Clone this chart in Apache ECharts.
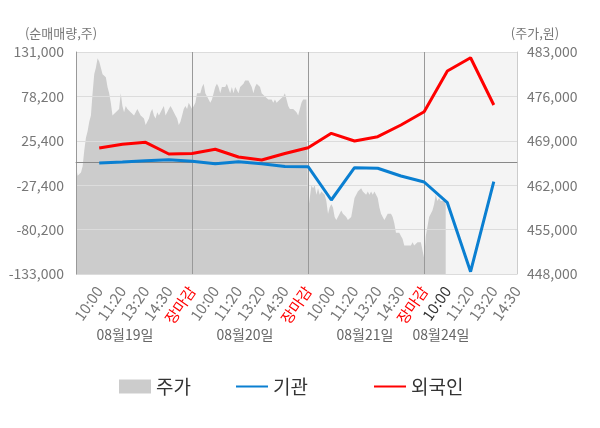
<!DOCTYPE html>
<html>
<head>
<meta charset="utf-8">
<script src="https://cdn.jsdelivr.net/npm/echarts@6.0.0/dist/echarts.min.js"></script>
<style>
html,body{margin:0;padding:0;background:#fff;}
#main2dchart{width:600px;height:428px;}
</style>
</head>
<body>
<div id="main2dchart"></div>
<script>
// 순매매 집계 시각 (일자별 10:00 ~ 장마감)
var timeLabels = ['', '10:00', '11:20', '13:20', '14:30', '장마감',
	'10:00', '11:20', '13:20', '14:30', '장마감',
	'10:00', '11:20', '13:20', '14:30', '장마감',
	'10:00', '11:20', '13:20', '14:30'];
var dayLabels = ['08월19일', '08월20일', '08월21일', '08월24일'];

// 기관 / 외국인 누적 순매매량 (주)
var instValues = [null, -1000, 200, 1600, 2800, 1000,
	-1800, 500, -1800, -5200, -5400,
	-45000, -6600, -7300, -16500, -23600,
	-48200, -130300, -23200, null];
var foreignValues = [null, 16800, 21200, 23600, 9700, 10300,
	15300, 6100, 2600, 10300, 17200,
	34300, 25200, 30300, 44200, 60000,
	108400, 124200, 68000, null];

var leftTicks = [-133000, -80200, -27400, 25400, 78200, 131000];
var rightMin = 448000, rightMax = 483000, rightStep = 7000;

// 주가 (원) - 일자별 분 단위 흐름
var priceDay1 = [465000, 463500, 463500, 464000, 465000, 467500, 469500, 470500, 472000, 473000,
	476500, 479500, 480500, 482000, 481500, 480500, 479500, 479500, 479000, 477500,
	476500, 475000, 473000, 473000, 473500, 473500, 474000, 476500, 474500, 473500,
	474500, 474000, 474000, 473500, 473500, 473000, 473500, 474000, 473500, 473000,
	473000, 472500, 471500, 472000, 472500, 473500, 474000, 473000, 472500, 473500,
	473000, 473500, 474000, 474500, 473000, 473000, 474000, 474500, 474000, 473500,
	473000, 472500, 471500, 472000, 473000, 474000, 474500, 474000, 475000, 475000];
var priceDay2 = [474000, 474500, 475000, 476500, 476500, 476500, 477500, 478000, 476500, 476500,
	475500, 475000, 475500, 476500, 477500, 478000, 477500, 476500, 477500, 477500,
	477500, 478000, 478000, 476500, 477500, 476500, 477500, 477000, 476500, 477500,
	477500, 478000, 478500, 478500, 478500, 478000, 477500, 476500, 477500, 478000,
	478000, 477500, 476500, 476500, 476000, 476000, 475500, 475500, 475500, 475000,
	475500, 475000, 475000, 475500, 475500, 476000, 476500, 475500, 474500, 474000,
	474000, 474000, 474000, 473500, 473000, 474000, 475000, 475500, 475500, 475500];
var priceDay3 = [458000, 460000, 462000, 461500, 462000, 460500, 461500, 460500, 461000, 461000,
	460500, 459500, 457500, 458500, 459000, 458500, 457000, 456500, 457000, 457500,
	458000, 457500, 457500, 457000, 456500, 456500, 457000, 458500, 460000, 460500,
	461000, 461000, 461500, 461000, 461000, 460500, 461000, 460500, 461000, 460500,
	461000, 460500, 460000, 458500, 457500, 457000, 456500, 457000, 457500, 457500,
	457500, 457000, 456000, 454500, 454500, 454500, 454000, 453500, 452500, 452500,
	452500, 452500, 452500, 453000, 452500, 452500, 453000, 453000, 453000, 453000];
var priceDay4 = [450500, 454000, 455500, 457000, 457000, 458000, 459000, 460500, 459500, 460000,
	459500, 459500, 459500, 459000];

var Main2dchart = {
	slotsPerDay: 70,
	font: '"Noto Sans CJK KR", "Noto Sans", sans-serif',
	dayLabelX: [125, 245, 365, 441],
	legendX: [114, 230, 368],

	init: function () {
		var chart = echarts.init(document.getElementById('main2dchart'));
		chart.setOption(Main2dchart.option(), true);
	},

	priceSlots: function () {
		// 집계 시각 5칸이 하루, 하루를 slotsPerDay 칸으로 나눈다
		var n = (timeLabels.length - 1) / 5 * Main2dchart.slotsPerDay + 1;
		var arr = [];
		for (var i = 0; i < n; i++) { arr.push(String(i)); }
		return arr;
	},

	legends: function () {
		var items = [
			{ name: '주가', icon: 'rect' },
			{ name: '기관', itemStyle: { opacity: 0 } },
			{ name: '외국인', itemStyle: { opacity: 0 } }
		];
		var list = [];
		for (var i = 0; i < items.length; i++) {
			list.push({
				left: Main2dchart.legendX[i], top: 372,
				itemWidth: 32, itemHeight: 14,
				textStyle: { color: '#333', fontSize: 19, fontFamily: Main2dchart.font },
				data: [items[i]]
			});
		}
		return list;
	},

	option: function () {
		var font = Main2dchart.font;
		var prices = priceDay1.concat(priceDay2, priceDay3, priceDay4);

		var graphics = [];
		for (var i = 0; i < dayLabels.length; i++) {
			graphics.push({
				type: 'text',
				x: Main2dchart.dayLabelX[i],
				y: 335,
				silent: true,
				style: {
					text: dayLabels[i],
					fill: '#666',
					font: '14px ' + font,
					align: 'center',
					verticalAlign: 'middle'
				}
			});
		}

		return {
			animation: false,
			backgroundColor: '#fff',
			textStyle: { fontFamily: font },
			grid: {
				left: 76, right: 83, top: 52, bottom: 154,
				show: true, backgroundColor: '#f4f4f4', borderWidth: 0
			},
			legend: Main2dchart.legends(),
			xAxis: [{
				type: 'category',
				data: timeLabels,
				boundaryGap: false,
				z: 3,
				axisLine: { lineStyle: { color: '#999' } },
				axisTick: {
					interval: function (idx) { return idx % 5 === 0; },
					length: 4, lineStyle: { color: '#999' }
				},
				splitLine: {
					show: true,
					interval: function (idx) { return idx > 0 && idx % 5 === 0; },
					lineStyle: { color: '#999', width: 1 }
				},
				axisLabel: {
					interval: 0, rotate: 55, margin: 14, fontSize: 15,
					color: function (value, index) {
						if (value === '장마감') return '#ff0000';
						if (index === 16) return '#333';
						return '#777';
					}
				}
			}, {
				type: 'category',
				data: Main2dchart.priceSlots(),
				boundaryGap: false,
				show: false
			}],
			yAxis: [{
				type: 'value',
				min: leftTicks[0], max: leftTicks[leftTicks.length - 1],
				z: 3,
				name: '(순매매량,주)',
				nameLocation: 'end', nameGap: 12,
				nameTextStyle: { color: '#777', fontSize: 13, padding: [0, 30, 0, 0] },
				axisLine: { show: true, lineStyle: { color: '#999' } },
				axisTick: { show: false, customValues: leftTicks },
				axisLabel: { color: '#777', fontSize: 14, margin: 12, customValues: leftTicks },
				splitLine: { show: true, lineStyle: { color: '#dcdcdc' } }
			}, {
				type: 'value',
				min: rightMin, max: rightMax, interval: rightStep,
				position: 'right',
				name: '(주가,원)',
				nameLocation: 'end', nameGap: 12,
				nameTextStyle: { color: '#777', fontSize: 13, padding: [0, 0, 0, 36] },
				axisLine: { show: true, lineStyle: { color: '#ccc' } },
				axisTick: { show: false },
				axisLabel: { color: '#777', fontSize: 14, margin: 10 },
				splitLine: { show: false }
			}],
			graphic: graphics,
			series: [{
				name: '주가',
				type: 'line',
				xAxisIndex: 1, yAxisIndex: 1,
				data: prices,
				symbol: 'none',
				color: '#cccccc',
				lineStyle: { width: 0 },
				areaStyle: { color: '#cccccc', opacity: 1, origin: 'start' },
				z: 1
			}, {
				name: '기관',
				type: 'line',
				data: instValues,
				symbol: 'none',
				color: '#0a7fd1',
				lineStyle: { width: 3, color: '#0a7fd1' },
				z: 5,
				markLine: {
					silent: true,
					symbol: 'none',
					label: { show: false },
					lineStyle: { color: '#888', width: 1, type: 'solid' },
					data: [{ yAxis: 0 }]
				}
			}, {
				name: '외국인',
				type: 'line',
				data: foreignValues,
				symbol: 'none',
				color: '#ff0000',
				lineStyle: { width: 3, color: '#ff0000' },
				z: 6
			}]
		};
	}
};

Main2dchart.init();
</script>
</body>
</html>
